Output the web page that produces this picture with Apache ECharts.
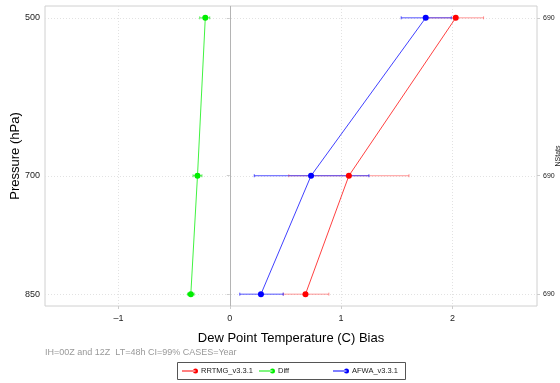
<!DOCTYPE html>
<html><head><meta charset="utf-8">
<script src="https://cdn.jsdelivr.net/npm/echarts@6/dist/echarts.min.js"></script>
<style>html,body{margin:0;padding:0;background:#fff}#c{width:560px;height:383px}</style>
</head><body><div id="c"></div>
<script>
const pressures = [500, 700, 850];
const rrtmg   = [2.03, 1.07, 0.68];
const rrtmgLo = [1.78, 0.53, 0.48];
const rrtmgHi = [2.28, 1.61, 0.89];
const diff    = [-0.22, -0.29, -0.35];
const diffLo  = [-0.27, -0.33, -0.38];
const diffHi  = [-0.18, -0.25, -0.32];
const afwa    = [1.76, 0.73, 0.28];
const afwaLo  = [1.54, 0.22, 0.09];
const afwaHi  = [1.99, 1.25, 0.48];
const nstats  = [690, 690, 690];
const xTicks  = [-1, 0, 1, 2];
const seriesNames = ['RRTMG_v3.3.1', 'Diff', 'AFWA_v3.3.1'];
const caption = 'IH=00Z and 12Z  LT=48h CI=99% CASES=Year';

const chart = echarts.init(document.getElementById('c'));
const icon = 'path://M0,2h13.5v1h-13.5z M11,2.5a2.5,2.5 0 1,0 5,0a2.5,2.5 0 1,0 -5,0z';
const legendLeft = [182, 259, 333];

function lineSeries(name, vals, color) {
  return {
    name, type: 'line', data: vals.map((v, i) => [v, pressures[i]]),
    symbol: 'circle', symbolSize: 6, color,
    lineStyle: { width: 1, color, opacity: 0.75 }, itemStyle: { color },
    z: 5, animation: false
  };
}
function errSeries(name, lo, hi, color) {
  return {
    name: name + '_err', type: 'custom', z: 4, animation: false, silent: true,
    data: lo.map((v, i) => [v, hi[i], pressures[i]]),
    renderItem(params, api) {
      const a = api.coord([api.value(0), api.value(2)]);
      const b = api.coord([api.value(1), api.value(2)]);
      const st = { stroke: color, lineWidth: 1 };
      return { type: 'group', children: [
        { type: 'line', shape: { x1: a[0], y1: a[1], x2: b[0], y2: b[1] }, style: st },
        { type: 'line', shape: { x1: a[0], y1: a[1] - 1.5, x2: a[0], y2: a[1] + 1.5 }, style: st },
        { type: 'line', shape: { x1: b[0], y1: b[1] - 1.5, x2: b[0], y2: b[1] + 1.5 }, style: st }
      ]};
    }
  };
}

const gridData = xTicks.map(v => [0, v]).concat(pressures.map(p => [1, p]));

chart.setOption({
  animation: false,
  textStyle: { fontFamily: 'Liberation Sans, Arial, sans-serif' },
  grid: { left: 45, right: 23, top: 6, bottom: 77, show: true, borderColor: '#d0d0d0', borderWidth: 1,
          outerBoundsMode: 'none', containLabel: false },
  xAxis: {
    type: 'value', min: -1.66, max: 2.76,
    name: 'Dew Point Temperature (C) Bias', nameLocation: 'middle', nameGap: 26, nameMoveOverlap: false,
    nameTextStyle: { fontSize: 13, color: '#000' },
    axisLine: { show: false }, splitLine: { show: false },
    axisTick: { show: true, customValues: xTicks, length: 3, lineStyle: { color: '#ccc' } },
    axisLabel: { customValues: xTicks, fontSize: 9, color: '#222', margin: 8,
      formatter: v => (v < 0 ? '\u2013' + Math.abs(v) : String(v)) }
  },
  yAxis: [{
    type: 'value', inverse: true, min: 485, max: 865, position: 'left',
    name: 'Pressure (hPa)', nameLocation: 'middle', nameGap: 23, nameRotate: 90, nameMoveOverlap: false,
    nameTextStyle: { fontSize: 13, color: '#000' },
    axisLine: { show: false }, splitLine: { show: false },
    axisTick: { show: true, customValues: pressures, length: 3, lineStyle: { color: '#ccc' } },
    axisLabel: { customValues: pressures, fontSize: 9, color: '#222', margin: 5 }
  }, {
    type: 'value', inverse: true, min: 485, max: 865, position: 'right',
    name: 'NStats', nameLocation: 'middle', nameGap: 18, nameRotate: 90, nameMoveOverlap: false,
    nameTextStyle: { fontSize: 7, color: '#222' },
    axisLine: { show: false }, splitLine: { show: false },
    axisTick: { show: true, customValues: pressures, length: 3, lineStyle: { color: '#ccc' } },
    axisLabel: { customValues: pressures, fontSize: 7, color: '#222', margin: 6,
      formatter: v => String(nstats[pressures.indexOf(v)]) }
  }],
  legend: seriesNames.map((n, i) => ({
    data: [{ name: n, icon }],
    left: legendLeft[i], top: 367, orient: 'horizontal',
    itemWidth: 16, itemHeight: 5, padding: 0,
    textStyle: { fontSize: 7.5, color: '#222', padding: [0, 0, 0, -2] },
    selectedMode: false
  })),
  graphic: [{
    type: 'text', left: 45, top: 348,
    style: { text: caption, fontSize: 9, fill: '#999', fontFamily: 'Liberation Sans, Arial, sans-serif' }
  }, {
    type: 'rect', silent: true,
    shape: { x: 177.5, y: 362.5, width: 228, height: 17 },
    style: { fill: 'none', stroke: '#555', lineWidth: 1 }
  }],
  series: [
    {
      name: 'grid', type: 'custom', z: 0, silent: true, animation: false,
      data: gridData,
      renderItem(params, api) {
        const cs = params.coordSys;
        const kind = api.value(0), v = api.value(1);
        let shape;
        if (kind === 0) {
          const x = Math.round(api.coord([v, 500])[0]) + 0.5;
          shape = { x1: x, y1: cs.y, x2: x, y2: cs.y + cs.height };
        } else {
          const y = Math.round(api.coord([0, v])[1]) + 0.5;
          shape = { x1: cs.x, y1: y, x2: cs.x + cs.width, y2: y };
        }
        const zero = kind === 0 && v === 0;
        return { type: 'line', shape, style: zero
          ? { stroke: '#b4b4b4', lineWidth: 1 }
          : { stroke: '#e2e2e2', lineWidth: 1, lineDash: [1, 2] } };
      }
    },
    errSeries('RRTMG', rrtmgLo, rrtmgHi, 'rgba(255,80,80,0.6)'),
    errSeries('Diff', diffLo, diffHi, 'rgba(0,230,0,0.6)'),
    errSeries('AFWA', afwaLo, afwaHi, 'rgba(40,40,255,0.8)'),
    lineSeries(seriesNames[0], rrtmg, '#ff0000'),
    lineSeries(seriesNames[1], diff, '#00ee00'),
    lineSeries(seriesNames[2], afwa, '#0000ff')
  ]
});
</script></body></html>
